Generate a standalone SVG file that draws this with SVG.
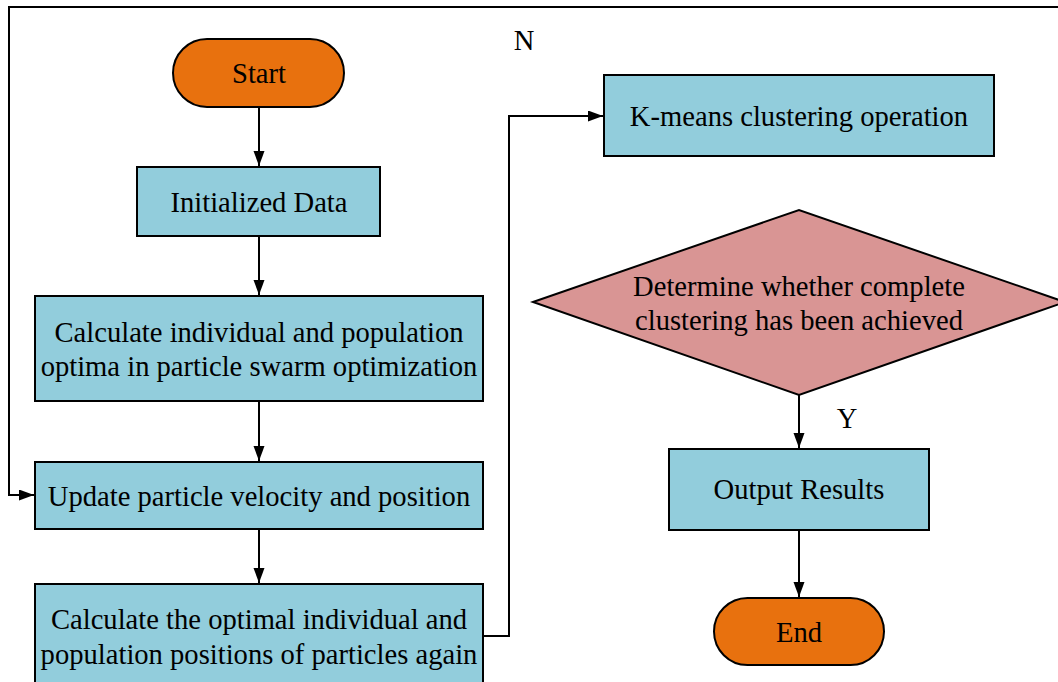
<svg xmlns="http://www.w3.org/2000/svg" width="1058" height="682" viewBox="0 0 1058 682">
<style>
.box{fill:#92CDDC;stroke:#000;stroke-width:2}
.term{fill:#E8710E;stroke:#000;stroke-width:2}
.dia{fill:#D99594;stroke:#000;stroke-width:2}
.t{font-family:'Liberation Serif','Times New Roman',serif;font-size:28.6px;fill:#000;text-anchor:middle}
.c{fill:none;stroke:#000;stroke-width:2}
</style>
<defs>
<marker id="ah" markerUnits="userSpaceOnUse" markerWidth="16" markerHeight="12" refX="15" refY="5.5" orient="auto">
<path d="M0,0 L15,5.5 L0,11 z" fill="#000"/>
</marker>
</defs>
<rect width="1058" height="682" fill="#fff"/>
<g id="connectors">
<path class="c" d="M259,108 V166" marker-end="url(#ah)"/>
<path class="c" d="M259,236 V295" marker-end="url(#ah)"/>
<path class="c" d="M259,401 V461" marker-end="url(#ah)"/>
<path class="c" d="M259,529 V583" marker-end="url(#ah)"/>
<path class="c" d="M483,636 H509 V116 H603" marker-end="url(#ah)"/>
<path class="c" d="M1060,7 H9 V495 H34" marker-end="url(#ah)"/>
<path class="c" d="M799,395 V448" marker-end="url(#ah)"/>
<path class="c" d="M799,530 V597" marker-end="url(#ah)"/>
<text class="t" x="524" y="50">N</text>
<text class="t" x="847" y="428">Y</text>
</g>
<g id="start">
<rect class="term" x="173" y="39" width="171" height="68" rx="34" ry="34"/>
<text class="t" x="259" y="83">Start</text>
</g>
<g id="init">
<rect class="box" x="137" y="167" width="243" height="69"/>
<text class="t" x="259" y="212">Initialized Data</text>
</g>
<g id="calc">
<rect class="box" x="35" y="296" width="448" height="105"/>
<text class="t" x="259" y="342">Calculate individual and population</text>
<text class="t" x="259" y="376">optima in particle swarm optimization</text>
</g>
<g id="update">
<rect class="box" x="35" y="462" width="448" height="67"/>
<text class="t" x="259" y="506">Update particle velocity and position</text>
</g>
<g id="calc2">
<rect class="box" x="35" y="584" width="448" height="110"/>
<text class="t" x="259" y="629">Calculate the optimal individual and</text>
<text class="t" x="259" y="664">population positions of particles again</text>
</g>
<g id="kmeans">
<rect class="box" x="604" y="75" width="390" height="81"/>
<text class="t" x="799" y="126">K-means clustering operation</text>
</g>
<g id="decision">
<polygon class="dia" points="533,302 799,210 1065,302 799,395"/>
<text class="t" x="799" y="296">Determine whether complete</text>
<text class="t" x="799" y="330">clustering has been achieved</text>
</g>
<g id="output">
<rect class="box" x="669" y="449" width="260" height="81"/>
<text class="t" x="799" y="499">Output Results</text>
</g>
<g id="end">
<rect class="term" x="714" y="598" width="170" height="67" rx="33.5" ry="33.5"/>
<text class="t" x="799" y="642">End</text>
</g>
</svg>
